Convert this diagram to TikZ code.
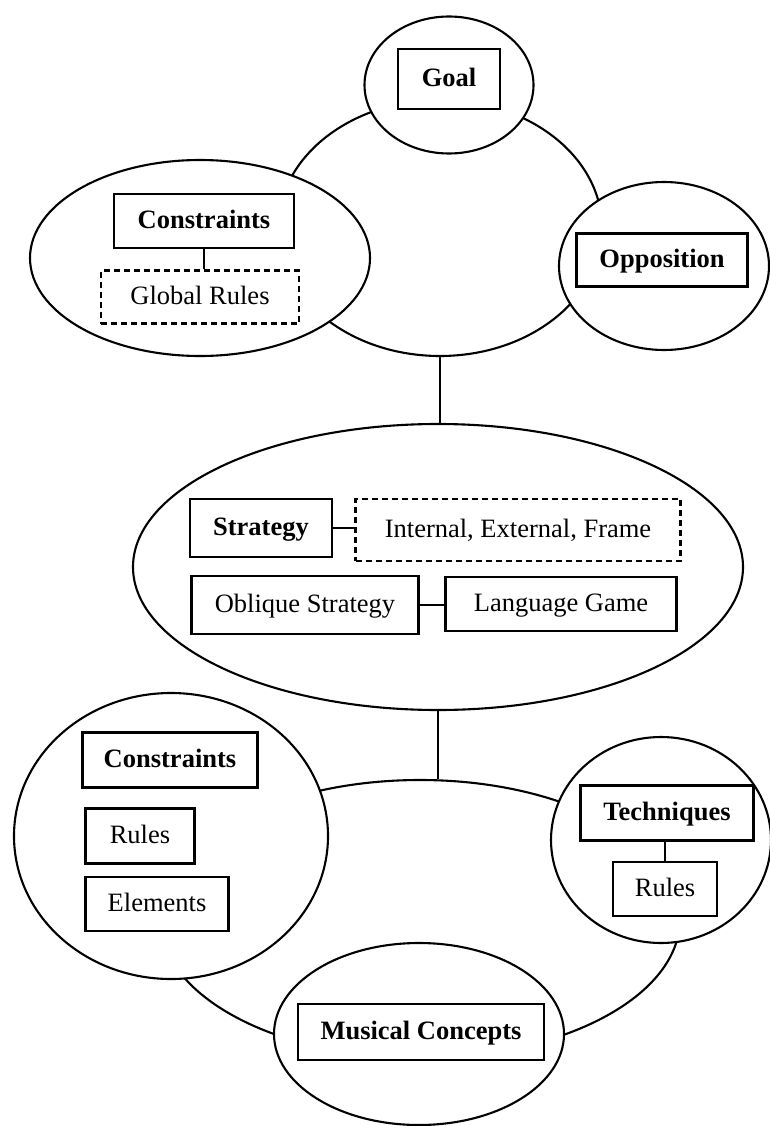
\documentclass[tikz,border=0pt]{standalone}
\usepackage{fontspec}
\setmainfont{Liberation Serif}
\usetikzlibrary{shapes.geometric}
\begin{document}
\begin{tikzpicture}[x=1pt,y=-1pt,
  lw/.style={line width=2.1pt},
  bigell/.style={draw, ellipse, inner sep=0pt, lw},
  smallell/.style={bigell, fill=white},
  box/.style={draw, rectangle, fill=white, inner sep=0pt, lw, text height=18pt, text depth=3.5pt, font=\fontsize{26.5}{30}\selectfont},
  bbox/.style={box, font=\fontsize{26.5}{30}\selectfont\bfseries},
  dbox/.style={box, dash pattern=on 6pt off 4pt},
  conn/.style={lw}]
\useasboundingbox (0,0) rectangle (770,1126);

% ---- top cluster ----
\node[bigell, minimum width=324pt, minimum height=256pt] (topc) at (440,228) {};
\node[smallell, minimum width=169pt, minimum height=137pt] (goalell) at (449,85) {};
\node[smallell, minimum width=340pt, minimum height=196pt] (cons1ell) at (200,258) {};
\node[smallell, minimum width=210pt, minimum height=168pt] (oppell) at (664,266) {};
\node[bbox, minimum width=102pt, minimum height=60pt] (goal) at (449,79) {Goal};
\node[bbox, minimum width=180pt, minimum height=54pt] (cons1) at (204,221) {Constraints};
\node[dbox, minimum width=198pt, minimum height=53pt] (gr) at (200,297) {Global Rules};
\node[bbox, minimum width=171pt, minimum height=53pt] (opp) at (662,260) {Opposition};
\draw[conn] (cons1.south) -- (cons1.south |- gr.north);

% ---- strategy ----
\node[bigell, minimum width=610pt, minimum height=286pt] (strat) at (438,567) {};
\draw[conn] (topc.south) -- (topc.south |- strat.north);
\node[bbox, minimum width=142pt, minimum height=58pt] (st) at (261,528) {Strategy};
\node[dbox, minimum width=325pt, minimum height=62pt] (int) at (518,530) {Internal, External, Frame};
\node[box, minimum width=227pt, minimum height=58pt] (obl) at (305,605) {Oblique Strategy};
\node[box, minimum width=231pt, minimum height=54pt] (lang) at (561,604) {Language Game};
\draw[conn] (st.east) -- (st.east -| int.west);
\draw[conn] (obl.east) -- (obl.east -| lang.west);

% ---- bottom cluster ----
\node[bigell, minimum width=520pt, minimum height=278pt] (lowc) at (420,919) {};
\draw[conn] (strat.south) -- (strat.south |- lowc.north);
\node[smallell, minimum width=314pt, minimum height=286pt] (cons2ell) at (171,836) {};
\node[smallell, minimum width=220pt, minimum height=206pt] (techell) at (661,840) {};
\node[smallell, minimum width=290pt, minimum height=182pt] (musell) at (419,1034) {};
\node[bbox, minimum width=175pt, minimum height=55pt] (cons2) at (170,760) {Constraints};
\node[box, minimum width=109pt, minimum height=55pt] (rules1) at (140,836) {Rules};
\node[box, minimum width=143pt, minimum height=54pt] (elem) at (157,904) {Elements};
\node[bbox, minimum width=173pt, minimum height=55pt] (tech) at (667,813) {Techniques};
\node[box, minimum width=104pt, minimum height=54pt] (rules2) at (665,889) {Rules};
\node[bbox, minimum width=246pt, minimum height=56pt] (mus) at (421,1032) {Musical Concepts};
\draw[conn] (tech.south -| rules2.north) -- (rules2.north);
\end{tikzpicture}
\end{document}
